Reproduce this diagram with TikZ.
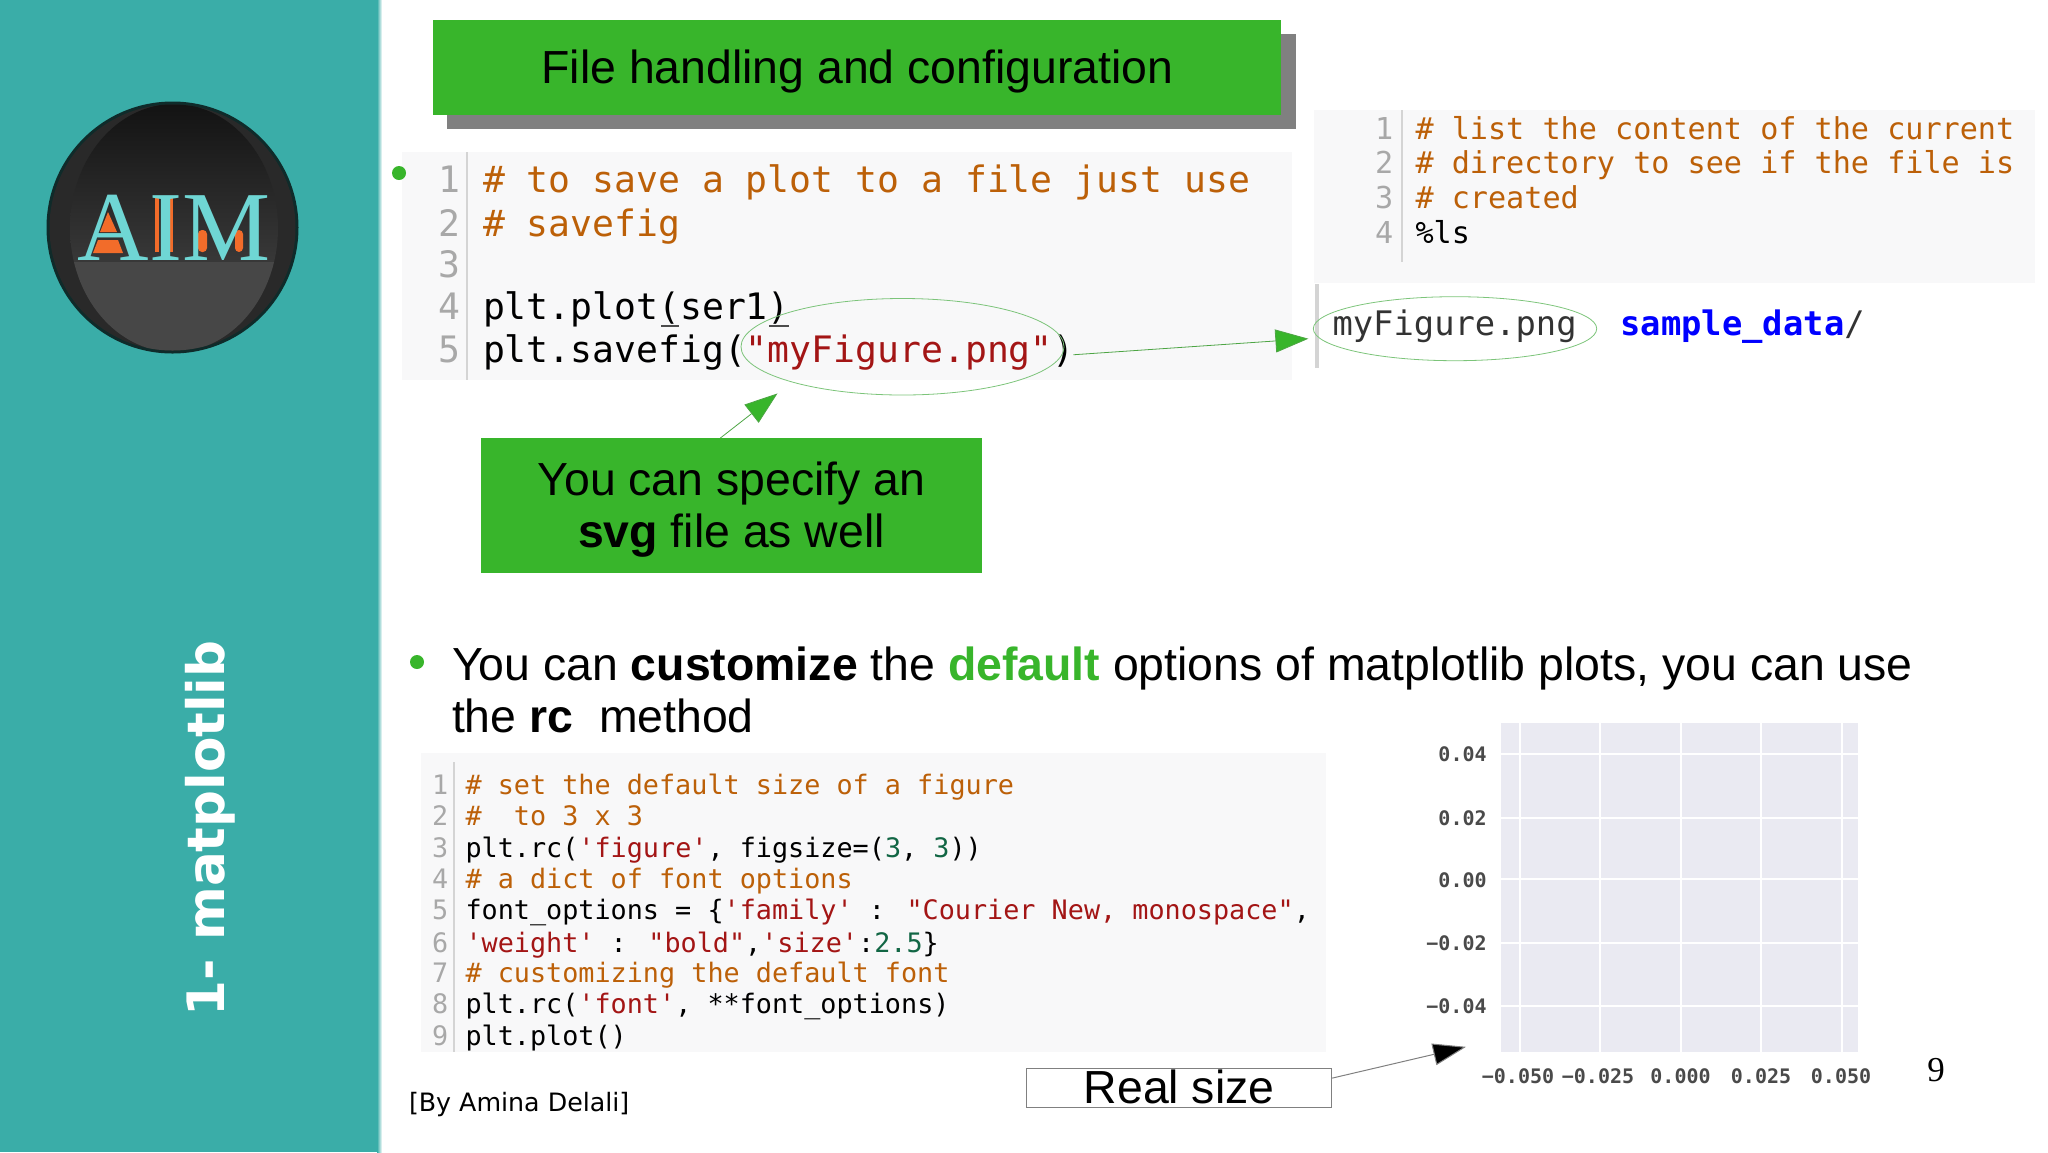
\documentclass[tikz,border=0pt]{standalone}
\usepackage{fontspec}
\setmainfont{Liberation Sans}
\newfontfamily\codefont{DejaVu Sans Mono}
\newfontfamily\labelfont{DejaVu Sans}
\newfontfamily\logofont{Liberation Serif}
\usetikzlibrary{arrows.meta,shapes.geometric}
\definecolor{teal1}{HTML}{3AADA8}
\definecolor{green1}{HTML}{38B52B}
\definecolor{shadow1}{HTML}{808080}
\definecolor{codebg}{HTML}{F8F8F9}
\definecolor{cmtc}{HTML}{BC6008}
\definecolor{strc}{HTML}{A31515}
\definecolor{numc}{HTML}{116644}
\definecolor{ling}{HTML}{A8A8A8}
\definecolor{gutter}{HTML}{D4D4D4}
\definecolor{plotbg}{HTML}{EAEAF2}
\definecolor{thin}{HTML}{7CC47A}
\definecolor{tick}{HTML}{4A4A4A}
\definecolor{letter}{HTML}{6FD6D4}
\definecolor{orange1}{HTML}{F26C2A}
\newcommand{\cmt}[1]{\textcolor{cmtc}{#1}}
\newcommand{\strg}[1]{\textcolor{strc}{#1}}
\newcommand{\codenum}[1]{\textcolor{numc}{#1}}
\tikzset{
  x=0.5pt,y=-0.5pt,
  txt/.style={inner sep=0pt,outer sep=0pt,anchor=base west},
  codeA/.style={txt,font=\codefont\fontsize{18.2pt}{20pt}\selectfont},
  codeB/.style={txt,font=\codefont\fontsize{15.07pt}{18pt}\selectfont},
  codeC/.style={txt,font=\codefont\fontsize{16.9pt}{20pt}\selectfont},
  codeD/.style={txt,font=\codefont\fontsize{13.4pt}{16pt}\selectfont},
  codebox/.style={fill=codebg,draw=none,anchor=north west,inner sep=0pt},
  greenbox/.style={fill=green1,draw=none,anchor=north west,inner sep=0pt},
  oval/.style={ellipse,draw=thin,line width=0.4pt,inner sep=0pt,fill=none},
  bulletdot/.style={circle,fill=green1,inner sep=0pt,minimum size=7pt},
  thinarrow/.style={draw=green1!70!gray,line width=0.4pt,-{Triangle[length=16.5pt,width=11.5pt,fill=green1]}},
  blackarrow/.style={draw=gray,line width=0.5pt,-{Triangle[length=16.5pt,width=11pt,fill=black]}},
  gridline/.style={draw=white,line width=1pt},
  ticklabel/.style={inner sep=0pt,text=tick,font=\codefont\bfseries\fontsize{10pt}{12pt}\selectfont},
  big/.style={font=\fontsize{23.2pt}{26pt}\selectfont,inner sep=0pt}
}
\begin{document}
\begin{tikzpicture}
\useasboundingbox (0,0) rectangle (2048,1152);
% sidebar
\fill[teal1] (0,0) rectangle (377,1152);
\shade[left color=teal1,right color=white] (377,0) rectangle (382,1152);
% logo
\fill[black!75!teal1] (172.5,227.5) circle[radius=63pt];
\begin{scope}
  \clip (172.5,227.5) circle[radius=61.5pt];
  \fill[black!84] (40,90) rectangle (300,370);
  \clip (174,228) ellipse[x radius=104,y radius=124];
  \shade[top color=black!93,bottom color=black!78] (60,100) rectangle (290,262);
  \fill[black!72] (60,262) rectangle (290,360);
\end{scope}
\fill[orange1] (108,212) -- (117,232) -- (100,232) -- cycle;
\fill[orange1] (98,240) -- (118,240) -- (123,253) -- (93,253) -- cycle;
\fill[orange1] (155,198) rectangle (159,252);
\fill[orange1] (169,198) rectangle (173,252);
\fill[orange1,rounded corners=2pt] (198,230) rectangle (207,252);
\fill[orange1,rounded corners=2pt] (235,230) rectangle (243,252);
\node[inner sep=0pt,anchor=base,text=letter,font=\logofont\fontsize{49.5pt}{50pt}\selectfont] (logo) at (174,260) {AIM};
% sidebar title
\node[txt,rotate=90,text=white,font=\labelfont\bfseries\fontsize{25.8pt}{28pt}\selectfont] (side) at (224,1016) {1- matplotlib};
% title
\fill[shadow1] (447,34) rectangle (1296,129);
\node[greenbox,minimum width=424pt,minimum height=47.5pt,text height=31.5pt,text depth=16pt,font=\fontsize{23.2pt}{26pt}\selectfont] (title) at (433,20) {File handling and configuration};
% code 1
\node[codebox,minimum width=444.75pt,minimum height=114pt] (code1) at (402,152) {};
\draw[gutter,line width=0.7pt] (467,152) -- (467,380);
\node[bulletdot] (b1) at (399,173) {};
\node[codeA,text=ling] (n11) at (438,192.5) {1};
\node[codeA,text=ling] (n12) at (438,236.5) {2};
\node[codeA,text=ling] (n13) at (438,277.5) {3};
\node[codeA,text=ling] (n14) at (438,319) {4};
\node[codeA,text=ling] (n15) at (438,362) {5};
\node[codeA] (l11) at (483,192.5) {\cmt{\# to save a plot to a file just use}};
\node[codeA] (l12) at (483,236.5) {\cmt{\# savefig}};
\node[codeA] (l14) at (483,319) {plt.plot(ser1)};
\node[codeA] (l15) at (483,362.5) {plt.savefig(\strg{"myFigure.png"})};
\draw[black!70,line width=0.8pt] (661,326) -- (679,326) (769,326) -- (789,326);
% code 2
\node[codebox,minimum width=360.5pt,minimum height=86.5pt] (code2) at (1314,110) {};
\draw[gutter,line width=0.7pt] (1402,110) -- (1402,262);
\node[codeB,text=ling] (n21) at (1375,139) {1};
\node[codeB,text=ling] (n22) at (1375,173.5) {2};
\node[codeB,text=ling] (n23) at (1375,208.5) {3};
\node[codeB,text=ling] (n24) at (1375,243.5) {4};
\node[codeB] (l21) at (1415.5,139) {\cmt{\# list the content of the current}};
\node[codeB] (l22) at (1415.5,173.5) {\cmt{\# directory to see if the file is}};
\node[codeB] (l23) at (1415.5,208.5) {\cmt{\# created}};
\node[codeB] (l24) at (1415.5,243.5) {\%ls};
\draw[gutter,line width=2pt] (1317,284) -- (1317,368);
\node[codeC,text=black!80] (out1) at (1332.5,335.5) {myFigure.png};
\node[codeC,text=blue,font=\codefont\bfseries\fontsize{16.9pt}{20pt}\selectfont] (out2) at (1620.5,335.5) {sample\_data\textcolor{black!80}{\mdseries/}};
% ovals
\node[oval,minimum width=161.5pt,minimum height=48.25pt] (e1) at (902.5,346.75) {};
\node[oval,minimum width=141.7pt,minimum height=32pt] (e2) at (1455,328.7) {};
\draw[thinarrow] ([shift={(9,8)}]e1.east) -- ([shift={(-4.5,10)}]e2.west);
% svg callout
\node[greenbox,minimum width=250.5pt,minimum height=67.25pt] (svgbox) at (481,438) {};
\node[big,anchor=base] (svg1) at (731.5,495.5) {You can specify an};
\node[big,anchor=base] (svg2) at (731.5,547) {\textbf{svg} file as well};
\draw[thinarrow] ([xshift=-5.75pt]svgbox.north) -- ([shift={(-125,-2)}]e1.south);
% bullet text
\node[bulletdot] (b2) at (417,662) {};
\node[txt,font=\fontsize{23.2pt}{26pt}\selectfont] (t1) at (452,680) {You can \textbf{customize} the \textcolor{green1}{\textbf{default}} options of matplotlib plots, you can use};
\node[txt,font=\fontsize{23.2pt}{26pt}\selectfont] (t2) at (452,732) {the \textbf{rc}\ \ method};
% code 3
\node[codebox,minimum width=452.5pt,minimum height=149.5pt] (code3) at (421,753) {};
\draw[gutter,line width=0.7pt] (454,762) -- (454,1052);
\node[codeD,text=ling] (n31) at (432,794.3) {1};
\node[codeD,text=ling] (n32) at (432,825) {2};
\node[codeD,text=ling] (n33) at (432,857) {3};
\node[codeD,text=ling] (n34) at (432,888) {4};
\node[codeD,text=ling] (n35) at (432,919) {5};
\node[codeD,text=ling] (n36) at (432,952) {6};
\node[codeD,text=ling] (n37) at (432,982) {7};
\node[codeD,text=ling] (n38) at (432,1013) {8};
\node[codeD,text=ling] (n39) at (432,1045) {9};
\node[codeD] (l31) at (465.5,794.3) {\cmt{\# set the default size of a figure}};
\node[codeD] (l32) at (465.5,825) {\cmt{\#\ \ to 3 x 3}};
\node[codeD] (l33) at (465.5,857) {plt.rc(\strg{'figure'}, figsize=(\codenum{3}, \codenum{3}))};
\node[codeD] (l34) at (465.5,888) {\cmt{\# a dict of font options}};
\node[codeD] (l35) at (465.5,919) {font\_options = \{\strg{'family'} : \strg{"Courier New, monospace"},};
\node[codeD] (l36) at (465.5,952) {\strg{'weight'} : \strg{"bold"},\strg{'size'}:\codenum{2.5}\}};
\node[codeD] (l37) at (465.5,982) {\cmt{\# customizing the default font}};
\node[codeD] (l38) at (465.5,1013) {plt.rc(\strg{'font'}, **font\_options)};
\node[codeD] (l39) at (465.5,1045) {plt.plot()};
% author
\node[txt,font=\labelfont\fontsize{12.65pt}{16pt}\selectfont] (author) at (409,1111) {[By Amina Delali]};
% real size
\node[draw=gray,line width=0.6pt,inner sep=0pt,anchor=north west,minimum width=152.5pt,minimum height=19.5pt,text height=17.5pt,text depth=2pt,font=\fontsize{23.2pt}{26pt}\selectfont] (real) at (1026,1068) {Real size};
% plot
\node[fill=plotbg,inner sep=0pt,anchor=north west,minimum width=178.5pt,minimum height=164.5pt] (plot) at (1501,723) {};
\foreach \gx in {1519.5,1600,1681,1761,1842} \draw[gridline] (\gx,723) -- (\gx,1052);
\foreach \gy in {754,818,879,943,1006} \draw[gridline] (1501,\gy) -- (1858,\gy);
\draw[blackarrow] ([yshift=5pt]real.east) -- ([shift={(-35,-6)}]plot.south west);
\node[ticklabel,anchor=base east] (y1) at (1487,761) {0.04};
\node[ticklabel,anchor=base east] (y2) at (1487,825) {0.02};
\node[ticklabel,anchor=base east] (y3) at (1487,887) {0.00};
\node[ticklabel,anchor=base east] (y4) at (1487,950) {−0.02};
\node[ticklabel,anchor=base east] (y5) at (1487,1013) {−0.04};
\node[ticklabel,anchor=base] (x1) at (1518,1083) {−0.050};
\node[ticklabel,anchor=base] (x2) at (1598,1083) {−0.025};
\node[ticklabel,anchor=base] (x3) at (1680.5,1083) {0.000};
\node[ticklabel,anchor=base] (x4) at (1761,1083) {0.025};
\node[ticklabel,anchor=base] (x5) at (1841,1083) {0.050};
\node[inner sep=0pt,anchor=base,font=\logofont\fontsize{17.5pt}{20pt}\selectfont] (page) at (1936,1081) {9};
\end{tikzpicture}
\end{document}
